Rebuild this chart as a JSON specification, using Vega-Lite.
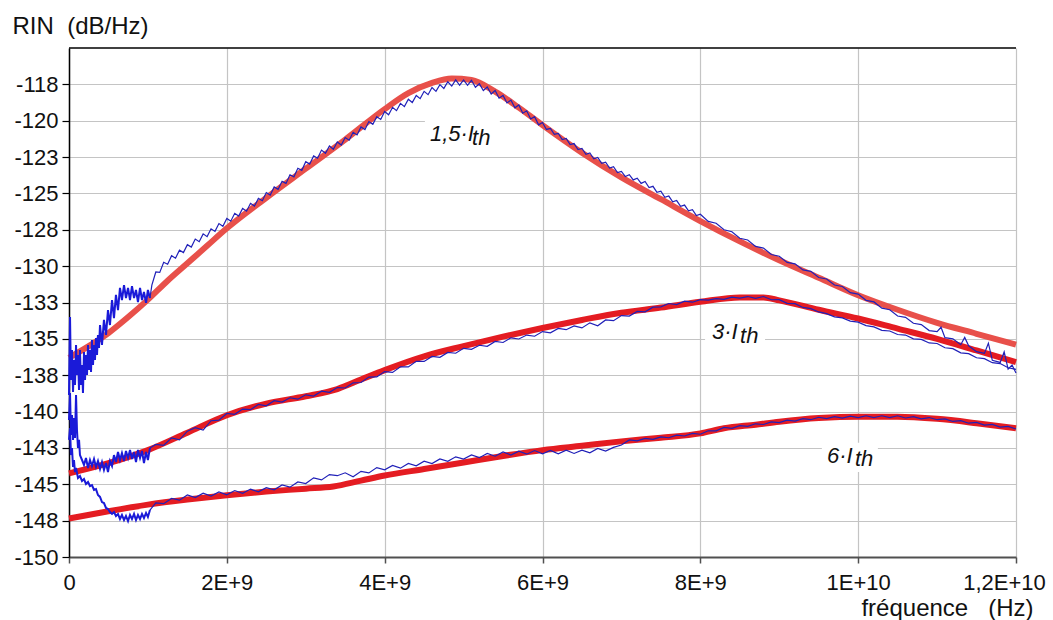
{
"$schema": "https://vega.github.io/schema/vega-lite/v6.json",
"width": 947, "height": 509,
"autosize": {"type": "none"},
"padding": {"left": 69, "top": 48, "right": 37, "bottom": 63},
"background": "white",
"config": {"font": "Liberation Sans", "view": {"stroke": null}},
"datasets": {
"frame": [{"f": 0, "f2": 12, "v": -115}],
"box": [
{"f": 4.51, "f2": 5.46, "v": -119.8, "v2": -122.0},
{"f": 8.06, "f2": 8.82, "v": -133.7, "v2": -135.75},
{"f": 9.54, "f2": 10.25, "v": -142.15, "v2": -144.15}
],
"lab": [
{"t": "1,5·I", "f": 4.574, "v": -121.4},
{"t": "th", "f": 5.107, "v": -121.67},
{"t": "3·I", "f": 8.148, "v": -135.01},
{"t": "th", "f": 8.503, "v": -135.29},
{"t": "6·I", "f": 9.605, "v": -143.54},
{"t": "th", "f": 9.96, "v": -143.74}
],
"red": [
{"s":"r15","f":0,"v":-136.3},{"s":"r15","f":0.25,"v":-135.5},{"s":"r15","f":0.5,"v":-134.6},{"s":"r15","f":0.75,"v":-133.5},{"s":"r15","f":1,"v":-132.3},{"s":"r15","f":1.25,"v":-131},{"s":"r15","f":1.5,"v":-129.8},{"s":"r15","f":1.75,"v":-128.6},{"s":"r15","f":2,"v":-127.4},{"s":"r15","f":2.5,"v":-125.3},{"s":"r15","f":3,"v":-123.3},{"s":"r15","f":3.5,"v":-121.3},{"s":"r15","f":4,"v":-119.2},{"s":"r15","f":4.3,"v":-118.1},{"s":"r15","f":4.6,"v":-117.4},{"s":"r15","f":4.85,"v":-117.1},{"s":"r15","f":5.1,"v":-117.2},{"s":"r15","f":5.4,"v":-118},{"s":"r15","f":5.7,"v":-119.1},{"s":"r15","f":6,"v":-120.3},{"s":"r15","f":6.5,"v":-122.2},{"s":"r15","f":7,"v":-123.9},{"s":"r15","f":7.5,"v":-125.4},{"s":"r15","f":8,"v":-126.9},{"s":"r15","f":8.5,"v":-128.3},{"s":"r15","f":9,"v":-129.6},{"s":"r15","f":9.5,"v":-130.8},{"s":"r15","f":10,"v":-132},{"s":"r15","f":10.5,"v":-133},{"s":"r15","f":11,"v":-133.9},{"s":"r15","f":11.5,"v":-134.65},{"s":"r15","f":12,"v":-135.4},
{"s":"r3","f":0,"v":-144.25},{"s":"r3","f":0.5,"v":-143.55},{"s":"r3","f":1,"v":-142.65},{"s":"r3","f":1.5,"v":-141.45},{"s":"r3","f":2,"v":-140.25},{"s":"r3","f":2.5,"v":-139.45},{"s":"r3","f":3,"v":-138.95},{"s":"r3","f":3.4,"v":-138.45},{"s":"r3","f":3.7,"v":-137.8},{"s":"r3","f":4,"v":-137.15},{"s":"r3","f":4.5,"v":-136.2},{"s":"r3","f":5,"v":-135.5},{"s":"r3","f":5.5,"v":-134.85},{"s":"r3","f":6,"v":-134.25},{"s":"r3","f":6.5,"v":-133.7},{"s":"r3","f":7,"v":-133.2},{"s":"r3","f":7.5,"v":-132.85},{"s":"r3","f":8,"v":-132.45},{"s":"r3","f":8.5,"v":-132.15},{"s":"r3","f":8.8,"v":-132.15},{"s":"r3","f":9,"v":-132.35},{"s":"r3","f":9.5,"v":-133},{"s":"r3","f":10,"v":-133.6},{"s":"r3","f":10.5,"v":-134.3},{"s":"r3","f":11,"v":-135},{"s":"r3","f":11.5,"v":-135.8},{"s":"r3","f":12,"v":-136.6},
{"s":"r6","f":0,"v":-147.35},{"s":"r6","f":0.5,"v":-146.85},{"s":"r6","f":1,"v":-146.4},{"s":"r6","f":1.5,"v":-146.05},{"s":"r6","f":2,"v":-145.75},{"s":"r6","f":2.5,"v":-145.5},{"s":"r6","f":3,"v":-145.3},{"s":"r6","f":3.35,"v":-145.15},{"s":"r6","f":3.7,"v":-144.75},{"s":"r6","f":4,"v":-144.4},{"s":"r6","f":4.5,"v":-143.95},{"s":"r6","f":5,"v":-143.5},{"s":"r6","f":5.5,"v":-143.05},{"s":"r6","f":6,"v":-142.65},{"s":"r6","f":6.5,"v":-142.35},{"s":"r6","f":7,"v":-142.05},{"s":"r6","f":7.5,"v":-141.8},{"s":"r6","f":8,"v":-141.5},{"s":"r6","f":8.3,"v":-141.15},{"s":"r6","f":8.7,"v":-140.9},{"s":"r6","f":9,"v":-140.7},{"s":"r6","f":9.5,"v":-140.45},{"s":"r6","f":10,"v":-140.35},{"s":"r6","f":10.5,"v":-140.35},{"s":"r6","f":11,"v":-140.5},{"s":"r6","f":11.5,"v":-140.8},{"s":"r6","f":12,"v":-141.15}
],
"noise": [
{"s":"n15","f":0,"v":-138.86},{"s":"n15","f":0.013,"v":-133.5},{"s":"n15","f":0.025,"v":-137.83},{"s":"n15","f":0.038,"v":-135.77},{"s":"n15","f":0.051,"v":-138.65},{"s":"n15","f":0.063,"v":-136.45},{"s":"n15","f":0.076,"v":-138.17},{"s":"n15","f":0.089,"v":-135.42},{"s":"n15","f":0.101,"v":-137.49},{"s":"n15","f":0.114,"v":-136.11},{"s":"n15","f":0.127,"v":-138.52},{"s":"n15","f":0.139,"v":-135.77},{"s":"n15","f":0.152,"v":-138.17},{"s":"n15","f":0.165,"v":-136.8},{"s":"n15","f":0.177,"v":-138.72},{"s":"n15","f":0.19,"v":-135.9},{"s":"n15","f":0.203,"v":-137.83},{"s":"n15","f":0.215,"v":-136.11},{"s":"n15","f":0.228,"v":-137.49},{"s":"n15","f":0.241,"v":-135.42},{"s":"n15","f":0.253,"v":-137.14},{"s":"n15","f":0.266,"v":-135.77},{"s":"n15","f":0.279,"v":-137.28},{"s":"n15","f":0.291,"v":-135.08},{"s":"n15","f":0.304,"v":-136.8},{"s":"n15","f":0.317,"v":-135.42},{"s":"n15","f":0.329,"v":-136.45},{"s":"n15","f":0.342,"v":-134.94},{"s":"n15","f":0.355,"v":-136.11},{"s":"n15","f":0.367,"v":-134.73},{"s":"n15","f":0.38,"v":-135.63},{"s":"n15","f":0.393,"v":-134.05},{"s":"n15","f":0.418,"v":-135.42},{"s":"n15","f":0.443,"v":-133.7},{"s":"n15","f":0.469,"v":-134.73},{"s":"n15","f":0.494,"v":-133.02},{"s":"n15","f":0.519,"v":-134.05},{"s":"n15","f":0.545,"v":-132.33},{"s":"n15","f":0.57,"v":-133.57},{"s":"n15","f":0.595,"v":-131.98},{"s":"n15","f":0.621,"v":-133.02},{"s":"n15","f":0.646,"v":-131.5},{"s":"n15","f":0.671,"v":-132.33},{"s":"n15","f":0.697,"v":-131.3},{"s":"n15","f":0.722,"v":-132.19},{"s":"n15","f":0.748,"v":-131.5},{"s":"n15","f":0.773,"v":-132.33},{"s":"n15","f":0.798,"v":-131.37},{"s":"n15","f":0.824,"v":-132.19},{"s":"n15","f":0.849,"v":-131.64},{"s":"n15","f":0.874,"v":-132.47},{"s":"n15","f":0.9,"v":-131.5},{"s":"n15","f":0.925,"v":-132.33},{"s":"n15","f":0.95,"v":-131.78},{"s":"n15","f":0.976,"v":-132.53},{"s":"n15","f":1.0,"v":-131.64},{"s":"n15","f":1.026,"v":-132.19},
{"s":"n3","f":0,"v":-140.58},{"s":"n3","f":0.013,"v":-138.72},{"s":"n3","f":0.025,"v":-141.61},{"s":"n3","f":0.038,"v":-140.24},{"s":"n3","f":0.051,"v":-141.95},{"s":"n3","f":0.063,"v":-140.44},{"s":"n3","f":0.076,"v":-141.82},{"s":"n3","f":0.089,"v":-138.86},{"s":"n3","f":0.101,"v":-141.27},{"s":"n3","f":0.114,"v":-142.5},{"s":"n3","f":0.127,"v":-141.95},{"s":"n3","f":0.139,"v":-142.99},{"s":"n3","f":0.165,"v":-143.33},{"s":"n3","f":0.19,"v":-143.67},{"s":"n3","f":0.215,"v":-143.19},{"s":"n3","f":0.241,"v":-143.88},{"s":"n3","f":0.266,"v":-143.33},{"s":"n3","f":0.291,"v":-143.74},{"s":"n3","f":0.317,"v":-143.26},{"s":"n3","f":0.342,"v":-143.81},{"s":"n3","f":0.367,"v":-143.4},{"s":"n3","f":0.393,"v":-143.95},{"s":"n3","f":0.418,"v":-143.47},{"s":"n3","f":0.443,"v":-144.02},{"s":"n3","f":0.469,"v":-143.54},{"s":"n3","f":0.494,"v":-144.16},{"s":"n3","f":0.519,"v":-143.4},{"s":"n3","f":0.545,"v":-143.74},{"s":"n3","f":0.57,"v":-142.99},{"s":"n3","f":0.595,"v":-143.47},{"s":"n3","f":0.621,"v":-142.78},{"s":"n3","f":0.646,"v":-143.33},{"s":"n3","f":0.671,"v":-142.85},{"s":"n3","f":0.697,"v":-143.4},{"s":"n3","f":0.722,"v":-142.71},{"s":"n3","f":0.748,"v":-143.19},{"s":"n3","f":0.773,"v":-142.64},{"s":"n3","f":0.798,"v":-143.26},{"s":"n3","f":0.824,"v":-142.78},{"s":"n3","f":0.849,"v":-143.47},{"s":"n3","f":0.874,"v":-142.64},{"s":"n3","f":0.9,"v":-143.19},{"s":"n3","f":0.925,"v":-142.71},{"s":"n3","f":0.95,"v":-143.54},{"s":"n3","f":0.976,"v":-142.78},{"s":"n3","f":1.0,"v":-143.33},{"s":"n3","f":1.026,"v":-142.5},
{"s":"n6","f":0,"v":-141.95},{"s":"n6","f":0.013,"v":-141.13},{"s":"n6","f":0.025,"v":-142.99},{"s":"n6","f":0.038,"v":-142.5},{"s":"n6","f":0.051,"v":-143.81},{"s":"n6","f":0.063,"v":-143.33},{"s":"n6","f":0.076,"v":-144.16},{"s":"n6","f":0.089,"v":-143.88},{"s":"n6","f":0.114,"v":-144.57},{"s":"n6","f":0.139,"v":-144.43},{"s":"n6","f":0.165,"v":-144.77},{"s":"n6","f":0.19,"v":-144.64},{"s":"n6","f":0.215,"v":-144.98},{"s":"n6","f":0.241,"v":-144.84},{"s":"n6","f":0.266,"v":-145.12},{"s":"n6","f":0.291,"v":-145.05},{"s":"n6","f":0.317,"v":-145.39},{"s":"n6","f":0.342,"v":-145.33},{"s":"n6","f":0.367,"v":-145.74},{"s":"n6","f":0.393,"v":-145.87},{"s":"n6","f":0.418,"v":-146.22},{"s":"n6","f":0.443,"v":-146.29},{"s":"n6","f":0.469,"v":-146.63},{"s":"n6","f":0.494,"v":-146.7},{"s":"n6","f":0.519,"v":-146.91},{"s":"n6","f":0.545,"v":-147.04},{"s":"n6","f":0.57,"v":-146.91},{"s":"n6","f":0.595,"v":-147.18},{"s":"n6","f":0.621,"v":-147.04},{"s":"n6","f":0.646,"v":-147.39},{"s":"n6","f":0.671,"v":-147.11},{"s":"n6","f":0.697,"v":-147.46},{"s":"n6","f":0.722,"v":-147.18},{"s":"n6","f":0.748,"v":-147.53},{"s":"n6","f":0.773,"v":-147.11},{"s":"n6","f":0.798,"v":-147.39},{"s":"n6","f":0.824,"v":-147.04},{"s":"n6","f":0.849,"v":-147.46},{"s":"n6","f":0.874,"v":-147.11},{"s":"n6","f":0.9,"v":-147.39},{"s":"n6","f":0.925,"v":-147.04},{"s":"n6","f":0.95,"v":-147.32},{"s":"n6","f":0.976,"v":-146.97},{"s":"n6","f":1.0,"v":-147.25},{"s":"n6","f":1.026,"v":-146.77}
],
"blue": [
{"s":"b15","f":1.026,"v":-132.19},{"s":"b15","f":1.05,"v":-131.3},{"s":"b15","f":1.1,"v":-130.4},{"s":"b15","f":1.15,"v":-130.43},{"s":"b15","f":1.2,"v":-129.73},{"s":"b15","f":1.25,"v":-129.87},{"s":"b15","f":1.3,"v":-129.28},{"s":"b15","f":1.35,"v":-129.45},{"s":"b15","f":1.4,"v":-128.9},{"s":"b15","f":1.45,"v":-129.07},{"s":"b15","f":1.5,"v":-128.52},{"s":"b15","f":1.55,"v":-128.69},{"s":"b15","f":1.6,"v":-128.14},{"s":"b15","f":1.65,"v":-128.32},{"s":"b15","f":1.7,"v":-127.78},{"s":"b15","f":1.75,"v":-127.97},{"s":"b15","f":1.8,"v":-127.43},{"s":"b15","f":1.85,"v":-127.61},{"s":"b15","f":1.9,"v":-127.07},{"s":"b15","f":1.95,"v":-127.26},{"s":"b15","f":2.0,"v":-126.72},{"s":"b15","f":2.05,"v":-126.91},{"s":"b15","f":2.1,"v":-126.37},{"s":"b15","f":2.15,"v":-126.56},{"s":"b15","f":2.2,"v":-126.03},{"s":"b15","f":2.25,"v":-126.22},{"s":"b15","f":2.3,"v":-125.68},{"s":"b15","f":2.35,"v":-125.87},{"s":"b15","f":2.4,"v":-125.34},{"s":"b15","f":2.45,"v":-125.5},{"s":"b15","f":2.5,"v":-124.94},{"s":"b15","f":2.55,"v":-125.11},{"s":"b15","f":2.6,"v":-124.55},{"s":"b15","f":2.65,"v":-124.72},{"s":"b15","f":2.7,"v":-124.17},{"s":"b15","f":2.75,"v":-124.31},{"s":"b15","f":2.8,"v":-123.72},{"s":"b15","f":2.85,"v":-123.86},{"s":"b15","f":2.9,"v":-123.27},{"s":"b15","f":2.95,"v":-123.41},{"s":"b15","f":3.0,"v":-122.82},{"s":"b15","f":3.05,"v":-122.98},{"s":"b15","f":3.1,"v":-122.42},{"s":"b15","f":3.15,"v":-122.58},{"s":"b15","f":3.2,"v":-122.02},{"s":"b15","f":3.25,"v":-122.24},{"s":"b15","f":3.3,"v":-121.74},{"s":"b15","f":3.35,"v":-121.96},{"s":"b15","f":3.4,"v":-121.46},{"s":"b15","f":3.45,"v":-121.67},{"s":"b15","f":3.5,"v":-121.16},{"s":"b15","f":3.55,"v":-121.34},{"s":"b15","f":3.6,"v":-120.8},{"s":"b15","f":3.65,"v":-120.98},{"s":"b15","f":3.7,"v":-120.43},{"s":"b15","f":3.75,"v":-120.61},{"s":"b15","f":3.8,"v":-120.06},{"s":"b15","f":3.85,"v":-120.25},{"s":"b15","f":3.9,"v":-119.72},{"s":"b15","f":3.95,"v":-119.91},{"s":"b15","f":4.0,"v":-119.37},{"s":"b15","f":4.05,"v":-119.59},{"s":"b15","f":4.1,"v":-119.08},{"s":"b15","f":4.15,"v":-119.31},{"s":"b15","f":4.2,"v":-118.81},{"s":"b15","f":4.25,"v":-119.03},{"s":"b15","f":4.3,"v":-118.52},{"s":"b15","f":4.35,"v":-118.75},{"s":"b15","f":4.4,"v":-118.26},{"s":"b15","f":4.45,"v":-118.48},{"s":"b15","f":4.5,"v":-117.98},{"s":"b15","f":4.55,"v":-118.21},{"s":"b15","f":4.6,"v":-117.72},{"s":"b15","f":4.65,"v":-117.98},{"s":"b15","f":4.7,"v":-117.52},{"s":"b15","f":4.75,"v":-117.78},{"s":"b15","f":4.8,"v":-117.32},{"s":"b15","f":4.85,"v":-117.62},{"s":"b15","f":4.9,"v":-117.19},{"s":"b15","f":4.95,"v":-117.56},{"s":"b15","f":5.0,"v":-117.2},{"s":"b15","f":5.05,"v":-117.57},{"s":"b15","f":5.1,"v":-117.22},{"s":"b15","f":5.15,"v":-117.7},{"s":"b15","f":5.2,"v":-117.46},{"s":"b15","f":5.25,"v":-117.93},{"s":"b15","f":5.3,"v":-117.68},{"s":"b15","f":5.35,"v":-118.16},{"s":"b15","f":5.4,"v":-117.92},{"s":"b15","f":5.45,"v":-118.45},{"s":"b15","f":5.5,"v":-118.26},{"s":"b15","f":5.55,"v":-118.78},{"s":"b15","f":5.6,"v":-118.58},{"s":"b15","f":5.65,"v":-119.11},{"s":"b15","f":5.7,"v":-118.92},{"s":"b15","f":5.75,"v":-119.48},{"s":"b15","f":5.8,"v":-119.32},{"s":"b15","f":5.85,"v":-119.88},{"s":"b15","f":5.9,"v":-119.72},{"s":"b15","f":5.95,"v":-120.28},{"s":"b15","f":6.0,"v":-120.12},{"s":"b15","f":6.05,"v":-120.6},{"s":"b15","f":6.1,"v":-120.53},{"s":"b15","f":6.15,"v":-120.94},{"s":"b15","f":6.2,"v":-120.87},{"s":"b15","f":6.25,"v":-121.29},{"s":"b15","f":6.3,"v":-121.22},{"s":"b15","f":6.35,"v":-121.64},{"s":"b15","f":6.4,"v":-121.57},{"s":"b15","f":6.45,"v":-121.98},{"s":"b15","f":6.5,"v":-121.91},{"s":"b15","f":6.55,"v":-122.31},{"s":"b15","f":6.6,"v":-122.22},{"s":"b15","f":6.65,"v":-122.62},{"s":"b15","f":6.7,"v":-122.53},{"s":"b15","f":6.75,"v":-122.93},{"s":"b15","f":6.8,"v":-122.85},{"s":"b15","f":6.85,"v":-123.25},{"s":"b15","f":6.9,"v":-123.16},{"s":"b15","f":6.95,"v":-123.56},{"s":"b15","f":7.0,"v":-123.48},{"s":"b15","f":7.05,"v":-123.84},{"s":"b15","f":7.1,"v":-123.71},{"s":"b15","f":7.15,"v":-124.07},{"s":"b15","f":7.2,"v":-123.95},{"s":"b15","f":7.25,"v":-124.31},{"s":"b15","f":7.3,"v":-124.18},{"s":"b15","f":7.35,"v":-124.59},{"s":"b15","f":7.4,"v":-124.51},{"s":"b15","f":7.45,"v":-124.92},{"s":"b15","f":7.5,"v":-124.85},{"s":"b15","f":7.55,"v":-125.26},{"s":"b15","f":7.6,"v":-125.18},{"s":"b15","f":7.65,"v":-125.58},{"s":"b15","f":7.7,"v":-125.49},{"s":"b15","f":7.75,"v":-125.89},{"s":"b15","f":7.8,"v":-125.8},{"s":"b15","f":7.85,"v":-126.2},{"s":"b15","f":7.9,"v":-126.12},{"s":"b15","f":7.95,"v":-126.52},{"s":"b15","f":8.0,"v":-126.43},
{"s":"b15","f":8.1,"v":-126.92},{"s":"b15","f":8.2,"v":-127.05},{"s":"b15","f":8.3,"v":-127.5},{"s":"b15","f":8.4,"v":-127.63},{"s":"b15","f":8.5,"v":-128.08},{"s":"b15","f":8.6,"v":-128.2},{"s":"b15","f":8.7,"v":-128.64},{"s":"b15","f":8.8,"v":-128.76},{"s":"b15","f":8.9,"v":-129.2},{"s":"b15","f":9.0,"v":-129.32},{"s":"b15","f":9.1,"v":-129.74},{"s":"b15","f":9.2,"v":-129.84},{"s":"b15","f":9.3,"v":-130.26},{"s":"b15","f":9.4,"v":-130.36},{"s":"b15","f":9.5,"v":-130.78},{"s":"b15","f":9.6,"v":-130.88},{"s":"b15","f":9.7,"v":-131.3},{"s":"b15","f":9.8,"v":-131.4},{"s":"b15","f":9.9,"v":-131.82},{"s":"b15","f":10.0,"v":-131.92},{"s":"b15","f":10.1,"v":-132.35},{"s":"b15","f":10.2,"v":-132.46},{"s":"b15","f":10.3,"v":-132.89},{"s":"b15","f":10.4,"v":-133.0},{"s":"b15","f":10.5,"v":-133.43},{"s":"b15","f":10.6,"v":-133.52},{"s":"b15","f":10.7,"v":-133.93},{"s":"b15","f":10.8,"v":-134.02},{"s":"b15","f":10.9,"v":-134.43},{"s":"b15","f":11.0,"v":-134.5},{"s":"b15","f":11.05,"v":-134.2},{"s":"b15","f":11.1,"v":-134.92},{"s":"b15","f":11.2,"v":-135.0},{"s":"b15","f":11.3,"v":-135.4},{"s":"b15","f":11.35,"v":-134.9},{"s":"b15","f":11.4,"v":-135.48},{"s":"b15","f":11.5,"v":-135.88},{"s":"b15","f":11.6,"v":-136.0},{"s":"b15","f":11.65,"v":-135.3},{"s":"b15","f":11.7,"v":-136.48},{"s":"b15","f":11.8,"v":-136.62},{"s":"b15","f":11.85,"v":-135.9},{"s":"b15","f":11.9,"v":-137.08},{"s":"b15","f":11.95,"v":-136.8},{"s":"b15","f":12.0,"v":-137.35},
{"s":"b3","f":1.026,"v":-142.5},{"s":"b3","f":1.1,"v":-142.26},{"s":"b3","f":1.2,"v":-142.32},{"s":"b3","f":1.3,"v":-141.81},{"s":"b3","f":1.4,"v":-141.94},{"s":"b3","f":1.5,"v":-141.35},{"s":"b3","f":1.6,"v":-141.11},{"s":"b3","f":1.7,"v":-141.27},{"s":"b3","f":1.8,"v":-140.63},{"s":"b3","f":1.9,"v":-140.59},{"s":"b3","f":2.0,"v":-140.13},{"s":"b3","f":2.1,"v":-140.19},{"s":"b3","f":2.2,"v":-139.83},{"s":"b3","f":2.3,"v":-139.87},{"s":"b3","f":2.4,"v":-139.51},{"s":"b3","f":2.5,"v":-139.6},{"s":"b3","f":2.6,"v":-139.25},{"s":"b3","f":2.7,"v":-139.35},{"s":"b3","f":2.8,"v":-139.05},{"s":"b3","f":2.9,"v":-139.15},{"s":"b3","f":3.0,"v":-138.85},{"s":"b3","f":3.1,"v":-138.93},{"s":"b3","f":3.2,"v":-138.6},{"s":"b3","f":3.3,"v":-138.68},{"s":"b3","f":3.4,"v":-138.35},{"s":"b3","f":3.5,"v":-138.38},{"s":"b3","f":3.6,"v":-138.02},{"s":"b3","f":3.7,"v":-138.0},{"s":"b3","f":3.8,"v":-137.63},{"s":"b3","f":3.9,"v":-137.62},{"s":"b3","f":4.0,"v":-137.25},{"s":"b3","f":4.1,"v":-137.31},{"s":"b3","f":4.2,"v":-136.92},{"s":"b3","f":4.3,"v":-136.93},{"s":"b3","f":4.4,"v":-136.54},{"s":"b3","f":4.5,"v":-136.55},{"s":"b3","f":4.6,"v":-136.21},{"s":"b3","f":4.7,"v":-136.27},{"s":"b3","f":4.8,"v":-135.93},{"s":"b3","f":4.9,"v":-135.99},{"s":"b3","f":5.0,"v":-135.65},{"s":"b3","f":5.1,"v":-135.72},{"s":"b3","f":5.2,"v":-135.44},{"s":"b3","f":5.3,"v":-135.51},{"s":"b3","f":5.4,"v":-135.18},{"s":"b3","f":5.5,"v":-135.25},{"s":"b3","f":5.6,"v":-134.93},{"s":"b3","f":5.7,"v":-135.01},{"s":"b3","f":5.8,"v":-134.74},{"s":"b3","f":5.9,"v":-134.82},{"s":"b3","f":6.0,"v":-134.5},{"s":"b3","f":6.1,"v":-134.59},{"s":"b3","f":6.2,"v":-134.28},{"s":"b3","f":6.3,"v":-134.37},{"s":"b3","f":6.4,"v":-134.11},{"s":"b3","f":6.5,"v":-134.25},{"s":"b3","f":6.6,"v":-133.9},{"s":"b3","f":6.7,"v":-134.1},{"s":"b3","f":6.8,"v":-133.7},{"s":"b3","f":6.9,"v":-133.75},{"s":"b3","f":7.0,"v":-133.4},{"s":"b3","f":7.1,"v":-133.43},{"s":"b3","f":7.2,"v":-133.11},{"s":"b3","f":7.3,"v":-133.14},{"s":"b3","f":7.4,"v":-132.82},{"s":"b3","f":7.5,"v":-132.8},{"s":"b3","f":7.6,"v":-132.57},{"s":"b3","f":7.7,"v":-132.64},{"s":"b3","f":7.8,"v":-132.41},{"s":"b3","f":7.9,"v":-132.48},{"s":"b3","f":8.0,"v":-132.3},{"s":"b3","f":8.1,"v":-132.34},{"s":"b3","f":8.2,"v":-132.23},{"s":"b3","f":8.3,"v":-132.29},{"s":"b3","f":8.4,"v":-132.13},{"s":"b3","f":8.5,"v":-132.2},{"s":"b3","f":8.6,"v":-132.09},{"s":"b3","f":8.7,"v":-132.21},{"s":"b3","f":8.8,"v":-132.09},{"s":"b3","f":8.9,"v":-132.31},{"s":"b3","f":9.0,"v":-132.3},{"s":"b3","f":9.1,"v":-132.56},{"s":"b3","f":9.2,"v":-132.58},{"s":"b3","f":9.3,"v":-132.84},{"s":"b3","f":9.4,"v":-132.92},{"s":"b3","f":9.5,"v":-133.15},{"s":"b3","f":9.6,"v":-133.27},{"s":"b3","f":9.7,"v":-133.49},{"s":"b3","f":9.8,"v":-133.56},{"s":"b3","f":9.9,"v":-133.78},{"s":"b3","f":10.0,"v":-133.85},{"s":"b3","f":10.1,"v":-134.09},{"s":"b3","f":10.2,"v":-134.18},{"s":"b3","f":10.3,"v":-134.42},{"s":"b3","f":10.4,"v":-134.46},{"s":"b3","f":10.5,"v":-134.7},{"s":"b3","f":10.6,"v":-134.74},{"s":"b3","f":10.7,"v":-135.0},{"s":"b3","f":10.8,"v":-135.04},{"s":"b3","f":10.9,"v":-135.28},{"s":"b3","f":11.0,"v":-135.32},{"s":"b3","f":11.1,"v":-135.61},{"s":"b3","f":11.2,"v":-135.67},{"s":"b3","f":11.3,"v":-135.96},{"s":"b3","f":11.4,"v":-136.02},{"s":"b3","f":11.5,"v":-136.3},{"s":"b3","f":11.6,"v":-136.36},{"s":"b3","f":11.7,"v":-136.64},{"s":"b3","f":11.8,"v":-136.7},{"s":"b3","f":11.9,"v":-136.99},{"s":"b3","f":12.0,"v":-137.1},
{"s":"b6","f":1.026,"v":-146.77},{"s":"b6","f":1.1,"v":-146.28},{"s":"b6","f":1.2,"v":-146.33},{"s":"b6","f":1.3,"v":-145.97},{"s":"b6","f":1.4,"v":-146.09},{"s":"b6","f":1.5,"v":-145.73},{"s":"b6","f":1.6,"v":-145.91},{"s":"b6","f":1.7,"v":-145.61},{"s":"b6","f":1.8,"v":-145.81},{"s":"b6","f":1.9,"v":-145.52},{"s":"b6","f":2.0,"v":-145.72},{"s":"b6","f":2.1,"v":-145.43},{"s":"b6","f":2.2,"v":-145.62},{"s":"b6","f":2.3,"v":-145.33},{"s":"b6","f":2.4,"v":-145.52},{"s":"b6","f":2.5,"v":-145.23},{"s":"b6","f":2.6,"v":-145.38},{"s":"b6","f":2.7,"v":-145.05},{"s":"b6","f":2.8,"v":-145.2},{"s":"b6","f":2.9,"v":-144.84},{"s":"b6","f":3.0,"v":-144.95},{"s":"b6","f":3.1,"v":-144.56},{"s":"b6","f":3.2,"v":-144.7},{"s":"b6","f":3.3,"v":-144.33},{"s":"b6","f":3.4,"v":-144.41},{"s":"b6","f":3.5,"v":-144.21},{"s":"b6","f":3.6,"v":-144.48},{"s":"b6","f":3.7,"v":-144.11},{"s":"b6","f":3.8,"v":-144.22},{"s":"b6","f":3.9,"v":-143.85},{"s":"b6","f":4.0,"v":-144.0},{"s":"b6","f":4.1,"v":-143.71},{"s":"b6","f":4.2,"v":-143.89},{"s":"b6","f":4.3,"v":-143.57},{"s":"b6","f":4.4,"v":-143.73},{"s":"b6","f":4.5,"v":-143.41},{"s":"b6","f":4.6,"v":-143.58},{"s":"b6","f":4.7,"v":-143.26},{"s":"b6","f":4.8,"v":-143.42},{"s":"b6","f":4.9,"v":-143.11},{"s":"b6","f":5.0,"v":-143.27},{"s":"b6","f":5.1,"v":-142.98},{"s":"b6","f":5.2,"v":-143.17},{"s":"b6","f":5.3,"v":-142.88},{"s":"b6","f":5.4,"v":-143.07},{"s":"b6","f":5.5,"v":-142.78},{"s":"b6","f":5.6,"v":-142.99},{"s":"b6","f":5.7,"v":-142.72},{"s":"b6","f":5.8,"v":-142.93},{"s":"b6","f":5.9,"v":-142.68},{"s":"b6","f":6.0,"v":-142.9},{"s":"b6","f":6.1,"v":-142.67},{"s":"b6","f":6.2,"v":-142.9},{"s":"b6","f":6.3,"v":-142.65},{"s":"b6","f":6.4,"v":-142.88},{"s":"b6","f":6.5,"v":-142.65},{"s":"b6","f":6.6,"v":-142.84},{"s":"b6","f":6.7,"v":-142.53},{"s":"b6","f":6.8,"v":-142.72},{"s":"b6","f":6.9,"v":-142.46},{"s":"b6","f":7.0,"v":-142.3},{"s":"b6","f":7.1,"v":-141.95},{"s":"b6","f":7.2,"v":-142.01},{"s":"b6","f":7.3,"v":-141.84},{"s":"b6","f":7.4,"v":-141.91},{"s":"b6","f":7.5,"v":-141.74},{"s":"b6","f":7.6,"v":-141.8},{"s":"b6","f":7.7,"v":-141.62},{"s":"b6","f":7.8,"v":-141.68},{"s":"b6","f":7.9,"v":-141.5},{"s":"b6","f":8.0,"v":-141.56},{"s":"b6","f":8.1,"v":-141.32},{"s":"b6","f":8.2,"v":-141.33},{"s":"b6","f":8.3,"v":-141.09},{"s":"b6","f":8.4,"v":-141.15},{"s":"b6","f":8.5,"v":-140.97},{"s":"b6","f":8.6,"v":-141.02},{"s":"b6","f":8.7,"v":-140.84},{"s":"b6","f":8.8,"v":-140.89},{"s":"b6","f":8.9,"v":-140.71},{"s":"b6","f":9.0,"v":-140.76},{"s":"b6","f":9.1,"v":-140.59},{"s":"b6","f":9.2,"v":-140.66},{"s":"b6","f":9.3,"v":-140.49},{"s":"b6","f":9.4,"v":-140.56},{"s":"b6","f":9.5,"v":-140.39},{"s":"b6","f":9.6,"v":-140.49},{"s":"b6","f":9.7,"v":-140.35},{"s":"b6","f":9.8,"v":-140.45},{"s":"b6","f":9.9,"v":-140.31},{"s":"b6","f":10.0,"v":-140.41},{"s":"b6","f":10.1,"v":-140.29},{"s":"b6","f":10.2,"v":-140.41},{"s":"b6","f":10.3,"v":-140.29},{"s":"b6","f":10.4,"v":-140.41},{"s":"b6","f":10.5,"v":-140.29},{"s":"b6","f":10.6,"v":-140.44},{"s":"b6","f":10.7,"v":-140.35},{"s":"b6","f":10.8,"v":-140.5},{"s":"b6","f":10.9,"v":-140.41},{"s":"b6","f":11.0,"v":-140.56},{"s":"b6","f":11.1,"v":-140.5},{"s":"b6","f":11.2,"v":-140.68},{"s":"b6","f":11.3,"v":-140.62},{"s":"b6","f":11.4,"v":-140.8},{"s":"b6","f":11.5,"v":-140.74},{"s":"b6","f":11.6,"v":-140.93},{"s":"b6","f":11.7,"v":-140.88},{"s":"b6","f":11.8,"v":-141.07},{"s":"b6","f":11.9,"v":-141.02},{"s":"b6","f":12.0,"v":-141.2}
]
},
"encoding": {
"x": {"field": "f", "type": "quantitative",
 "scale": {"domain": [0, 12], "nice": false, "zero": false},
 "axis": {"title": "fréquence\u00a0\u00a0\u00a0(Hz)", "values": [0, 2, 4, 6, 8, 10, 12],
  "labelExpr": "datum.value == 0 ? '0' : datum.value == 12 ? '1,2E+10' : datum.value == 10 ? '1E+10' : datum.value + 'E+9'",
  "grid": true, "gridColor": "#c4c4c4", "gridWidth": 1.2,
  "domainColor": "#505050", "domainWidth": 2, "tickColor": "#505050", "tickSize": 6, "tickWidth": 1.5,
  "labelFont": "Liberation Sans", "labelFontSize": 22, "labelColor": "#111111", "labelPadding": 26, "labelBaseline": "alphabetic",
  "labelAlign": "center", "labelOffset": {"condition": {"test": "datum.value == 12", "value": -12}, "value": 0},
  "labelFlush": false, "labelOverlap": false, "labelBound": false,
  "titleFont": "Liberation Sans", "titleFontSize": 24, "titleFontWeight": "normal", "titleColor": "#111111",
  "titleAlign": "right", "titleAnchor": null, "titleBaseline": "alphabetic", "titleX": 964, "titleY": 58}},
"y": {"field": "v", "type": "quantitative",
 "scale": {"domain": [-150, -115], "nice": false, "zero": false},
 "axis": {"title": "RIN\u00a0\u00a0(dB/Hz)", "values": [-150, -147.5, -145, -142.5, -140, -137.5, -135, -132.5, -130, -127.5, -125, -122.5, -120, -117.5],
  "labelExpr": "'-' + format(abs(datum.value), '.0f')",
  "grid": true, "gridColor": "#c4c4c4", "gridWidth": 1.2,
  "domainColor": "#000000", "domainWidth": 1.5, "tickColor": "#000000", "tickSize": 7, "tickWidth": 1.2,
  "labelFont": "Liberation Sans", "labelFontSize": 22, "labelColor": "#111111", "labelPadding": 4, "labelBaseline": "middle",
  "labelFlush": false, "labelOverlap": false, "labelBound": false,
  "titleFont": "Liberation Sans", "titleFontSize": 24, "titleFontWeight": "normal", "titleColor": "#111111",
  "titleAngle": 0, "titleAlign": "left", "titleAnchor": null, "titleBaseline": "alphabetic", "titleX": -57, "titleY": -15}}
},
"layer": [
{"data": {"name": "box"}, "mark": {"type": "rect", "fill": "white"}, "encoding": {"x2": {"field": "f2"}, "y2": {"field": "v2"}}},
{"data": {"name": "frame"}, "mark": {"type": "rule", "color": "#000000", "strokeWidth": 1.5}, "encoding": {"x2": {"field": "f2"}}},
{"data": {"name": "red"}, "mark": {"type": "line", "interpolate": "monotone", "strokeWidth": 6},
 "encoding": {"color": {"field": "s", "type": "nominal", "scale": {"domain": ["r15", "r3", "r6"], "range": ["#e8504a", "#e41c22", "#e41c22"]}, "legend": null}}},
{"data": {"name": "noise"}, "mark": {"type": "line", "strokeWidth": 2, "color": "#1a1ad8"},
 "encoding": {"detail": {"field": "s", "type": "nominal"}}},
{"data": {"name": "blue"}, "mark": {"type": "line", "strokeWidth": 1.2, "color": "#2020b8"},
 "encoding": {"detail": {"field": "s", "type": "nominal"}}},
{"data": {"name": "lab"}, "mark": {"type": "text", "font": "Liberation Sans", "fontStyle": "italic", "fontSize": 22, "align": "left", "baseline": "alphabetic", "color": "#111111"},
 "encoding": {"text": {"field": "t"}}}
]
}
